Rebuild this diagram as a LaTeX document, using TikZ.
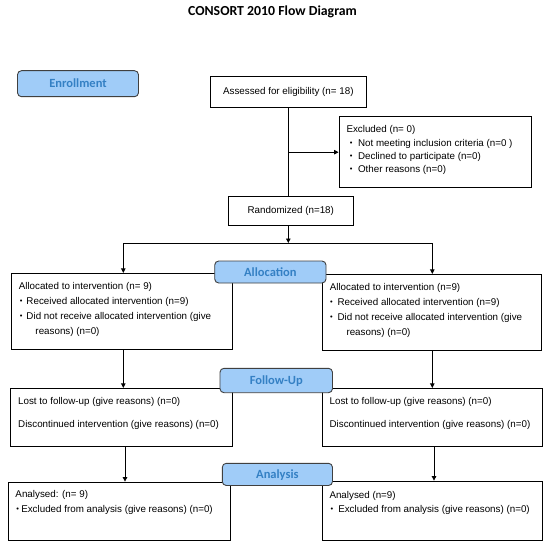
\documentclass[tikz,border=0pt]{standalone}
\usepackage{fontspec}
\setmainfont{Liberation Sans}
\newfontfamily\carl{Carlito}
\usetikzlibrary{arrows.meta,fit}
\definecolor{labfill}{RGB}{160,204,248}
\definecolor{labtext}{RGB}{52,128,196}
\definecolor{labdraw}{RGB}{64,64,64}
\newcommand\fl{\rule{0pt}{8bp}}
\newcommand\bul[2]{\hspace*{#1}\makebox[#2][l]{\raisebox{0.9bp}{\fontsize{7.5bp}{7.5bp}\selectfont\textbullet}}}
\begin{document}
\begin{tikzpicture}[x=1bp,y=-1bp,
  box/.style={draw=black, line width=0.8bp, fill=white, inner sep=0pt},
  lab/.style={draw=labdraw, fill=labfill, rounded corners=4bp, line width=0.9bp, inner sep=0pt},
  labtxt/.style={inner sep=0pt, text=labtext, font=\carl\bfseries\fontsize{12.5bp}{14bp}\selectfont, text height=8bp, text depth=0pt},
  txt/.style={inner sep=0pt, align=left, anchor=north west, font=\fontsize{9.8bp}{14.8bp}\selectfont},
  ctxt/.style={inner sep=0pt, font=\fontsize{9.8bp}{12bp}\selectfont},
  ln/.style={line width=0.8bp},
  arr/.style={line width=0.8bp, -{Triangle[length=4.5bp,width=4.5bp]}}]
\fill[white] (0,0) rectangle (550,547);
\useasboundingbox (0,0) rectangle (550,547);

\node[font=\carl\bfseries\fontsize{13.8bp}{16bp}\selectfont, anchor=base, inner sep=0pt] (title) at (272.5,16) {CONSORT 2010 Flow Diagram};

% boxes
\node[box, fit={(210,76.7) (366.7,107.3)}] (assess) {};
\node[box, fit={(339,116.7) (531.4,187.7)}] (excl) {};
\node[box, fit={(228.3,196.7) (353.3,225)}] (rand) {};
\node[box, fit={(11,273.3) (232.3,349)}] (allocL) {};
\node[box, fit={(322.3,274.3) (541.7,350)}] (allocR) {};
\node[box, fit={(10.7,388.3) (232.3,446)}] (fuL) {};
\node[box, fit={(322.3,388.3) (542,446)}] (fuR) {};
\node[box, fit={(8.3,482) (230,540)}] (anL) {};
\node[box, fit={(322.3,481) (542,540)}] (anR) {};

% texts
\node[ctxt] (assessT) at (assess.center) {Assessed for eligibility (n= 18)};
\node[ctxt] (randT) at (rand.center) {Randomized (n=18)};
\node[txt, font=\fontsize{9.8bp}{13.2bp}\selectfont] (exclT) at ([shift={(7.7,8.5)}]excl.north west)
  {\fl Excluded (n= 0)\\
   \bul{3.3bp}{8.3bp}Not meeting inclusion criteria (n=0 )\\
   \bul{3.3bp}{8.3bp}Declined to participate (n=0)\\
   \bul{3.3bp}{8.3bp}Other reasons (n=0)};
\node[txt] (allocLT) at ([shift={(8,8.5)}]allocL.north west)
  {\fl Allocated to intervention (n= 9)\\
   \bul{1bp}{6.7bp}Received allocated intervention (n=9)\\
   \bul{1bp}{6.7bp}Did not receive allocated intervention (give\\
   \hspace*{16.7bp}reasons) (n=0)};
\node[txt] (allocRT) at ([shift={(7.7,8.5)}]allocR.north west)
  {\fl Allocated to intervention (n=9)\\
   \bul{0.3bp}{7.4bp}Received allocated intervention (n=9)\\
   \bul{0.3bp}{7.4bp}Did not receive allocated intervention (give\\
   \hspace*{16.7bp}reasons) (n=0)};
\node[txt] (fuLT) at ([shift={(7.7,8.5)}]fuL.north west)
  {\fl Lost to follow-up (give reasons) (n=0)\\[8.5bp]
   Discontinued intervention (give reasons) (n=0)};
\node[txt] (fuRT) at ([shift={(7.5,8.5)}]fuR.north west)
  {\fl Lost to follow-up (give reasons) (n=0)\\[8.5bp]
   Discontinued intervention (give reasons) (n=0)};
\node[txt, font=\fontsize{9.8bp}{15.5bp}\selectfont] (anLT) at ([shift={(7.4,7.5)}]anL.north west)
  {\fl Analysed: (n= 9)\\
   \bul{1bp}{4.8bp}Excluded from analysis (give reasons) (n=0)};
\node[txt, font=\fontsize{9.8bp}{14.5bp}\selectfont] (anRT) at ([shift={(7.4,9.2)}]anR.north west)
  {\fl Analysed (n=9)\\
   \bul{1bp}{7.8bp}Excluded from analysis (give reasons) (n=0)};

% connectors
\coordinate (exbr) at (assess.south |- excl.west);
\coordinate (split) at (288.3,243);
\coordinate (colL) at (123.3,243);
\coordinate (colR) at (432.3,243);
\coordinate (col2L) at (125,446);
\coordinate (col2R) at (434,446);
\draw[ln] (assess.south) -- (assess.south |- rand.north);
\draw[arr] (exbr) -- (excl.west);
\draw[arr] (split |- rand.south) -- (split);
\draw[ln] (colL) -- (colR);
\draw[arr] (colL) -- (colL |- allocL.north);
\draw[arr] (colR) -- (colR |- allocR.north);
\draw[arr] (colL |- allocL.south) -- (colL |- fuL.north);
\draw[arr] (colR |- allocR.south) -- (colR |- fuR.north);
\draw[arr] (col2L) -- (col2L |- anL.north);
\draw[arr] (col2R) -- (col2R |- anR.north);

% stage labels
\node[lab, fit={(17.5,70.7) (138.5,96.7)}] (enroll) {};
\node[labtxt] (enrollT) at (enroll.center) {Enrollment};
\node[lab, fit={(214.7,261) (326,283)}] (allocLab) {};
\node[labtxt] (allocLabT) at (allocLab.center) {Allocation};
\node[lab, fit={(220,368.3) (332.5,392.7)}] (fuLab) {};
\node[labtxt] (fuLabT) at (fuLab.center) {Follow-Up};
\node[lab, fit={(222.3,463.3) (332.5,485.5)}] (anLab) {};
\node[labtxt] (anLabT) at (anLab.center) {Analysis};
\end{tikzpicture}
\end{document}
